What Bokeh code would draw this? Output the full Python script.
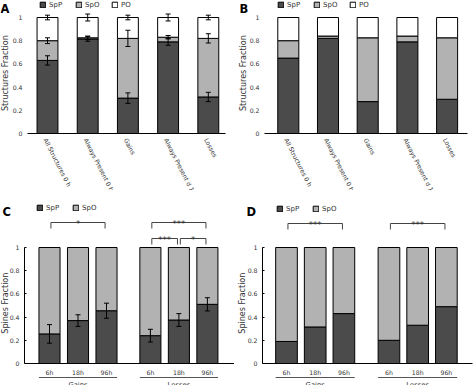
import math
import numpy as np
from bokeh.plotting import figure
from bokeh.models import (ColumnDataSource, Range1d, Whisker, TeeHead, Legend, LegendItem,
                          FixedTicker, NumeralTickFormatter)
from bokeh.layouts import row, column
from bokeh.embed import file_html
from bokeh.resources import INLINE
from bokeh.core.properties import value

FONT = "DejaVu Sans"
DARK = "#4b4b4b"
LIGHT = "#b2b2b2"
WHITE = "#ffffff"
TXT = "#333333"

# ---------------- data ----------------
structure_categories = ["All Structures 0 h", "Always Present 0 h", "Gains",
                        "Always Present d 17", "Losses"]
structure_stack = ["SpP", "SpO", "PO"]
a_spp = [0.63, 0.815, 0.305, 0.79, 0.315]
a_spo = [0.17, 0.01, 0.515, 0.04, 0.505]
a_po = [0.20, 0.175, 0.18, 0.17, 0.18]
a_spp_err = [0.04, 0.02, 0.045, 0.03, 0.04]
a_spo_err = [0.025, 0.015, 0.07, 0.015, 0.04]
a_po_err = [0.02, 0.03, 0.02, 0.03, 0.02]

b_spp = [0.65, 0.82, 0.275, 0.79, 0.295]
b_spo = [0.15, 0.02, 0.55, 0.05, 0.53]
b_po = [0.20, 0.16, 0.175, 0.16, 0.175]

y_ticks = [0, 0.2, 0.4, 0.6, 0.8, 1.0]

spine_groups = ["Gains", "Losses"]
spine_times = ["6h", "18h", "96h"]
spine_stack = ["SpP", "SpO"]
c_spp = [0.255, 0.37, 0.455, 0.24, 0.375, 0.51]
c_spo = [0.745, 0.63, 0.545, 0.76, 0.625, 0.49]
c_spp_err = [0.08, 0.05, 0.065, 0.055, 0.055, 0.057]
d_spp = [0.19, 0.315, 0.43, 0.20, 0.33, 0.49]
d_spo = [0.81, 0.685, 0.57, 0.80, 0.67, 0.51]

c_sig_from = [("Gains", "6h"), ("Losses", "6h"), ("Losses", "6h"), ("Losses", "18h")]
c_sig_to = [("Gains", "96h"), ("Losses", "96h"), ("Losses", "18h"), ("Losses", "96h")]
c_sig_text = ["*", "***", "***", "*"]
c_sig_tier = [0, 0, 1, 1]
d_sig_from = [("Gains", "6h"), ("Losses", "6h")]
d_sig_to = [("Gains", "96h"), ("Losses", "96h")]
d_sig_text = ["***", "***"]
d_sig_tier = [0, 0]


class Geo:
    """pixel layout of one panel -> data coordinates"""
    def __init__(self, width, height, first_px, step_px, one_px, zero_px):
        self.w, self.h = width, height
        self.first, self.step = first_px, step_px
        self.one, self.zero = one_px, zero_px
        self.ppu = zero_px - one_px

    def x(self, px):
        return (px - self.first) / self.step

    def y(self, py):
        return 1 + (self.one - py) / self.ppu

    def x_range(self):
        return Range1d(self.x(0), self.x(self.w))

    def y_range(self):
        return Range1d(self.y(self.h), self.y(0))


def base_fig(g, axis_px, axis_end_px, y_axis_line):
    p = figure(width=g.w, height=g.h, x_range=g.x_range(), y_range=g.y_range(),
               output_backend="svg", toolbar_location=None, tools="",
               min_border_left=0, min_border_right=0, min_border_top=0, min_border_bottom=0)
    p.xgrid.visible = False
    p.ygrid.visible = False
    p.outline_line_color = None
    xa = p.xaxis[0]
    xa.fixed_location = 0
    xa.bounds = (g.x(axis_px), g.x(axis_end_px))
    xa.ticker = FixedTicker(ticks=[])
    xa.major_tick_line_color = None
    xa.minor_tick_line_color = None
    xa.axis_line_color = "black"
    xa.major_label_text_font_size = "0px"
    ya = p.yaxis[0]
    ya.fixed_location = g.x(axis_px)
    ya.bounds = (0, 1)
    ya.ticker = FixedTicker(ticks=y_ticks)
    ya.formatter = NumeralTickFormatter(format="0.[0]")
    ya.major_label_text_font = FONT
    ya.major_label_text_font_size = "6.2px"
    ya.major_label_text_color = TXT
    ya.minor_tick_line_color = None
    ya.minor_tick_out = 0
    ya.major_tick_out = 0
    ya.major_label_standoff = 5
    if y_axis_line:
        ya.axis_line_color = "black"
        ya.major_tick_in = 2
        ya.major_tick_line_color = "black"
    else:
        ya.axis_line_color = None
        ya.major_tick_in = 0
        ya.major_tick_line_color = None
    return p


def add_legend(p, g, renderers, labels, left_px, top_px):
    legend = Legend(items=[LegendItem(label=l, renderers=[r]) for l, r in zip(labels, renderers)],
                    orientation="horizontal", location=(left_px, g.h - top_px - 9),
                    glyph_width=7, glyph_height=7, label_height=9, label_standoff=3, spacing=6,
                    padding=0, margin=0, border_line_color=None, background_fill_alpha=0,
                    label_text_font=FONT, label_text_font_size="7px", label_text_color=TXT)
    p.add_layout(legend)


def add_texts(p, xs, ys, texts, size, **kw):
    src = ColumnDataSource(dict(x=list(xs), y=list(ys), text=list(texts)))
    p.text(x="x", y="y", text="text", source=src, text_font=value(FONT), text_font_size=size,
           **kw)


def add_whiskers(p, base, lower, upper):
    src = ColumnDataSource(dict(base=list(base), lower=list(lower), upper=list(upper)))
    w = Whisker(base="base", lower="lower", upper="upper", source=src, dimension="height",
                line_color="black", line_width=1, level="overlay",
                upper_head=TeeHead(size=5, line_color="black", line_width=1),
                lower_head=TeeHead(size=5, line_color="black", line_width=1))
    p.add_layout(w)


def decorate(p, g, letter, letter_px, title, title_px):
    add_texts(p, [g.x(letter_px[0])], [g.y(letter_px[1])], [letter], "11.5px",
              text_font_style="bold", text_align="left", text_baseline="alphabetic",
              text_color="black")
    add_texts(p, [g.x(title_px)], [0.52], [title], "8px", angle=math.pi / 2,
              text_align="center", text_baseline="middle", text_color=TXT)


def structures_panel(letter, spp, spo, po, errs, g, axis_px, axis_end_px, bar_w,
                     letter_px, title_px, legend_px):
    p = base_fig(g, axis_px, axis_end_px, False)
    xs = list(range(len(structure_categories)))
    src = ColumnDataSource(dict(x=xs, SpP=spp, SpO=spo, PO=po))
    rs = p.vbar_stack(structure_stack, x="x", width=bar_w, source=src,
                      fill_color=[DARK, LIGHT, WHITE], line_color="black", line_width=1)
    if errs is not None:
        tops = np.cumsum(np.array([spp, spo, po]), axis=0)
        err = np.array(errs)
        add_whiskers(p, xs * 3, (tops - err).ravel(), (tops + err).ravel())
    add_texts(p, xs, [0.0] * len(xs), structure_categories, "6.2px", angle=-1.1,
              text_align="left", text_baseline="middle", y_offset=5, x_offset=-2,
              text_color=TXT)
    add_legend(p, g, rs, structure_stack, legend_px, 0)
    decorate(p, g, letter, letter_px, "Structures Fraction", title_px)
    return p


def spines_panel(letter, spp, spo, errs, sig_from, sig_to, sig_text, sig_tier, g, gap,
                 axis_px, axis_end_px, bar_w, tier_px, legend_px, letter_px, title_px):
    p = base_fig(g, axis_px, axis_end_px, True)
    nt = len(spine_times)

    def pos(grp, t):
        return spine_groups.index(grp) * (nt + gap) + spine_times.index(t)

    xs = [pos(grp, t) for grp in spine_groups for t in spine_times]
    src = ColumnDataSource(dict(x=xs, SpP=spp, SpO=spo))
    rs = p.vbar_stack(spine_stack, x="x", width=bar_w, source=src,
                      fill_color=[DARK, LIGHT], line_color="black", line_width=1)
    if errs is not None:
        s = np.array(spp)
        e = np.array(errs)
        add_whiskers(p, xs, s - e, s + e)
    # time labels
    add_texts(p, xs, [0.0] * len(xs), [t for grp in spine_groups for t in spine_times], "6.2px",
              text_align="center", text_baseline="top", y_offset=5, text_color=TXT)
    # group underline + group labels
    gy = g.y(g.zero + 14)
    ux0 = [pos(grp, spine_times[0]) - bar_w / 2 for grp in spine_groups]
    ux1 = [pos(grp, spine_times[-1]) + bar_w / 2 for grp in spine_groups]
    p.segment(x0=ux0, y0=[gy] * len(ux0), x1=ux1, y1=[gy] * len(ux1),
              line_color="#555555", line_width=1)
    add_texts(p, [pos(grp, spine_times[1]) for grp in spine_groups], [0.0] * len(spine_groups),
              spine_groups, "6.8px", text_align="center", text_baseline="top", y_offset=17,
              text_color=TXT)
    # significance brackets
    inset = 0.05
    drop = 6 / g.ppu
    x0, x1, y0, y1, tx, ty = [], [], [], [], [], []
    for f, t, tier in zip(sig_from, sig_to, sig_tier):
        h = g.y(tier_px[tier])
        a = pos(*f) + inset
        b = pos(*t) - inset
        x0 += [a, a, b]
        x1 += [b, a, b]
        y0 += [h, h, h]
        y1 += [h, h - drop, h - drop]
        tx.append((pos(*f) + pos(*t)) / 2)
        ty.append(h)
    p.segment(x0=x0, y0=y0, x1=x1, y1=y1, line_color="#444444", line_width=1)
    add_texts(p, tx, ty, sig_text, "8.5px", text_align="center", text_baseline="alphabetic",
              y_offset=1, text_color=TXT)
    add_legend(p, g, rs, spine_stack, legend_px[0], legend_px[1])
    decorate(p, g, letter, letter_px, "Spines Fraction", title_px)
    return p


H1, H2 = 190, 195
ga = Geo(234, H1, 47, 40.2, 17, 133)
gb = Geo(240, H1, 53.8, 39.7, 17, 133)
gc = Geo(234, H2, 49, 28.5, 57, 173)
gd = Geo(240, H2, 52, 28.7, 57, 173)

pa = structures_panel("A", a_spp, a_spo, a_po, [a_spp_err, a_spo_err, a_po_err], ga,
                      27, 225, 0.52, (0, 8), 5, 39)
pb = structures_panel("B", b_spp, b_spo, b_po, None, gb, 30, 233, 0.53, (5, 8), 8.5, 43)
pc = spines_panel("C", c_spp, c_spo, c_spp_err, c_sig_from, c_sig_to, c_sig_text, c_sig_tier,
                  gc, 0.54, 24, 234, 0.74, {0: 32, 1: 48}, (36, 13), (2, 21), 4.5)
pd = spines_panel("D", d_spp, d_spo, None, d_sig_from, d_sig_to, d_sig_text, d_sig_tier,
                  gd, 0.57, 28, 238, 0.755, {0: 33, 1: 48}, (42, 14), (12, 21), 8.3)

layout = column(row(pa, pb), row(pc, pd))
open("out.html", "w").write(file_html(layout, INLINE))
